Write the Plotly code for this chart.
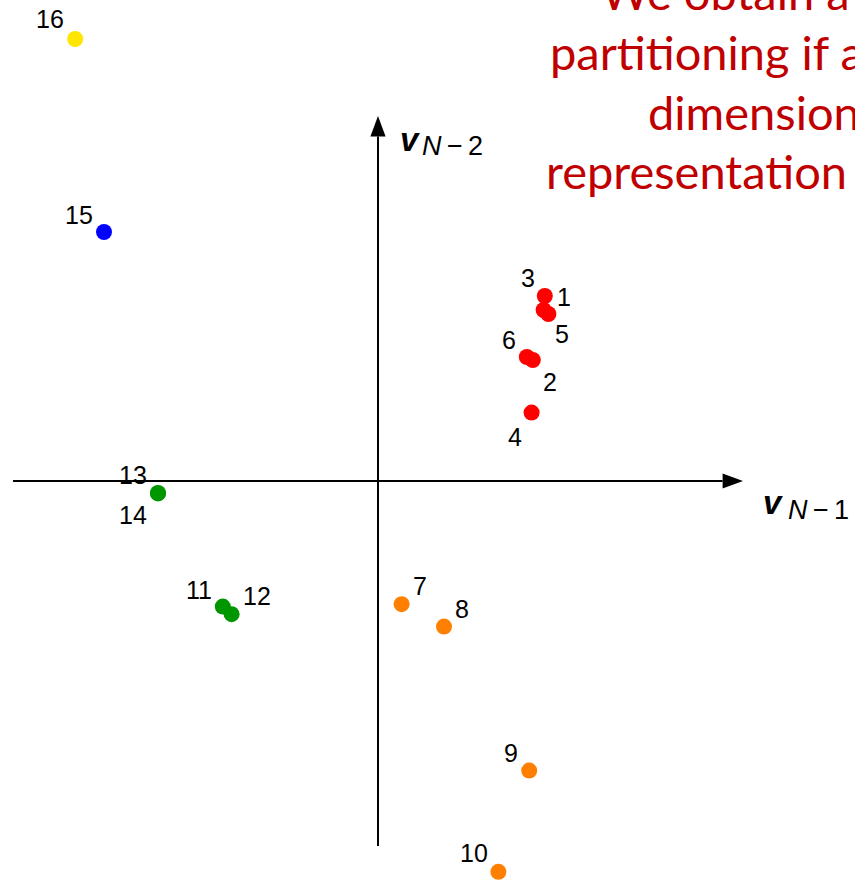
import plotly.graph_objects as go

# Spectral embedding: coordinates of the 16 nodes on eigenvectors v_{N-1}, v_{N-2}
node_ids = list(range(1, 17))
v_n1 = [0.417, 0.387, 0.414, 0.384, 0.426, 0.372,
        0.059, 0.165, 0.378, 0.301,
        -0.388, -0.366, -0.550, -0.550,
        -0.685, -0.757]
v_n2 = [0.4625, 0.3025, 0.4275, 0.171, 0.4175, 0.310,
        -0.308, -0.364, -0.724, -0.977,
        -0.314, -0.333, -0.030, -0.031,
        0.6225, 1.105]
cluster = [0, 0, 0, 0, 0, 0, 1, 1, 1, 1, 2, 2, 2, 2, 3, 4]
cluster_colors = ["#FF0000", "#FF8000", "#009600", "#0000FF", "#FFE600"]

# label placement around each marker (pixels: right, down)
label_offsets = [(19, 1), (17, 22), (-16, -32), (-17, 24), (14, 20), (-18, -17),
                 (18, -18), (18, -18), (-18, -18), (-24, -19),
                 (-24, -17), (25, -18), (-25, -18), (-25, 22),
                 (-25, -17), (-25, -20)]

headline = ["We obtain a natural", "partitioning if a low", "dimensional", "representation is used"]

W, H = 855, 880
X_RANGE = [-0.945, 1.1925]
Y_RANGE = [-0.9975, 1.2025]
AX = 0.9125          # half-length of the drawn axes
HEAD_L, HEAD_W = 0.051, 0.019

fig = go.Figure()
fig.add_trace(go.Scatter(
    x=v_n1, y=v_n2, mode="markers",
    marker=dict(size=16, color=[cluster_colors[c] for c in cluster], line=dict(width=0)),
    hoverinfo="skip", cliponaxis=False, showlegend=False,
))

shapes = [
    dict(type="line", x0=-AX, y0=0, x1=AX - HEAD_L, y1=0, line=dict(color="black", width=2)),
    dict(type="line", x0=0, y0=-AX, x1=0, y1=AX - HEAD_L, line=dict(color="black", width=2)),
    dict(type="path", path=f"M {AX} 0 L {AX - HEAD_L} {HEAD_W} L {AX - HEAD_L} {-HEAD_W} Z",
         fillcolor="black", line=dict(width=0)),
    dict(type="path", path=f"M 0 {AX} L {HEAD_W} {AX - HEAD_L} L {-HEAD_W} {AX - HEAD_L} Z",
         fillcolor="black", line=dict(width=0)),
]

annotations = []
lab_font = dict(family="Liberation Sans", size=25, color="black")
for nid, x, y, (dx, dy) in zip(node_ids, v_n1, v_n2, label_offsets):
    annotations.append(dict(x=x, y=y, text=str(nid), showarrow=False,
                            xshift=dx, yshift=-dy, font=lab_font))

def paper_y(py):
    return 1 - py / H

def paper_x(px):
    return px / W

# axis names
vfont = dict(family="Liberation Sans", size=33, color="black")
subfont = dict(family="Liberation Sans", size=27, color="black")
for (vx, vy, sx, sy, sub) in [(761, 503, 786, 510, "<i>N</i>\u2009\u2212\u20091"),
                              (398, 139, 420, 146, "<i>N</i>\u2009\u2212\u20092")]:
    annotations.append(dict(xref="paper", yref="paper", x=paper_x(vx), y=paper_y(vy),
                            xanchor="left", yanchor="middle", showarrow=False,
                            text="<b><i>v</i></b>", font=vfont))
    annotations.append(dict(xref="paper", yref="paper", x=paper_x(sx), y=paper_y(sy),
                            xanchor="left", yanchor="middle", showarrow=False,
                            text=sub, font=subfont))

# red headline
head_font = dict(family="Lato", size=47, color="#C00000")
for line, lx, base in zip(headline, [599, 548, 646, 544], [8, 68, 128, 187]):
    annotations.append(dict(xref="paper", yref="paper", x=paper_x(lx), y=paper_y(base - 16),
                            xanchor="left", yanchor="middle", showarrow=False,
                            text=line, font=head_font))

fig.update_layout(
    width=W, height=H, margin=dict(l=0, r=0, t=0, b=0),
    paper_bgcolor="white", plot_bgcolor="white",
    xaxis=dict(range=X_RANGE, visible=False, fixedrange=True),
    yaxis=dict(range=Y_RANGE, visible=False, fixedrange=True),
    shapes=shapes, annotations=annotations,
)

fig.write_html("out.html")
